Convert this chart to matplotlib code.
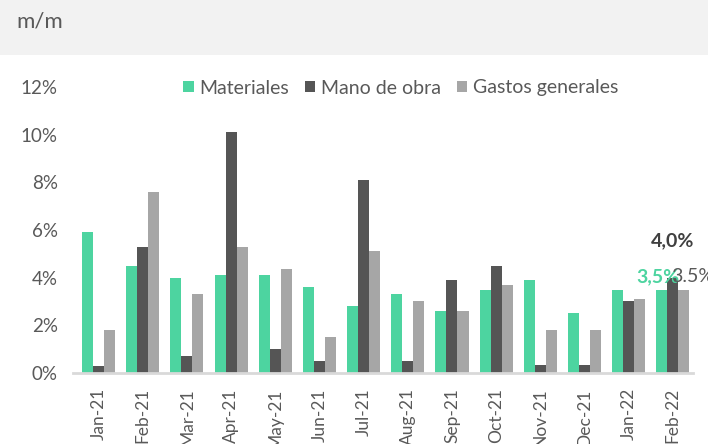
import numpy as np
import matplotlib
matplotlib.use("Agg")
import matplotlib.pyplot as plt
from matplotlib.patches import Rectangle
from matplotlib.ticker import FuncFormatter

months = ["Jan-21", "Feb-21", "Mar-21", "Apr-21", "May-21", "Jun-21", "Jul-21",
          "Aug-21", "Sep-21", "Oct-21", "Nov-21", "Dec-21", "Jan-22", "Feb-22"]
materiales = [5.9, 4.5, 4.0, 4.1, 4.1, 3.6, 2.8, 3.3, 2.6, 3.5, 3.9, 2.5, 3.5, 3.5]
mano_obra = [0.3, 5.3, 0.7, 10.1, 1.0, 0.5, 8.1, 0.5, 3.9, 4.5, 0.35, 0.35, 3.0, 4.0]
gastos = [1.8, 7.6, 3.3, 5.3, 4.35, 1.5, 5.1, 3.0, 2.6, 3.7, 1.8, 1.8, 3.1, 3.5]

green = "#4dd4a0"
dark = "#555555"
grey = "#a6a6a6"
txt = "#595959"

plt.rcParams['font.family'] = ['Lato', 'DejaVu Sans']

fig = plt.figure(figsize=(7.08, 4.44), dpi=100)
# grey title band
fig.patches.append(Rectangle((0, 1 - 55 / 444), 1, 55 / 444, transform=fig.transFigure,
                             facecolor="#f2f2f2", edgecolor="none", zorder=0))
fig.text(16 / 708, 1 - 22 / 444, "m/m", fontsize=16, color=txt, va="center", ha="left")

ax = fig.add_axes([0.103, 0.16, 0.876, 0.644])
x = np.arange(len(months))
w = 0.25
ax.bar(x - w, materiales, w, color=green, label="Materiales")
ax.bar(x, mano_obra, w, color=dark, label="Mano de obra")
ax.bar(x + w, gastos, w, color=grey, label="Gastos generales")

ax.set_xlim(-0.58, 13.46)
ax.set_ylim(0, 12)
ax.set_yticks([0, 2, 4, 6, 8, 10, 12])
ax.yaxis.set_major_formatter(FuncFormatter(lambda v, p: "%d%%" % v))
ax.set_xticks(x)
ax.set_xticklabels(months, rotation=90, va="top")
ax.tick_params(axis="both", length=0, labelsize=13.5, colors=txt)
ax.tick_params(axis="x", pad=11, labelsize=12.5)
ax.tick_params(axis="y", pad=11)
for s in ["top", "right", "left"]:
    ax.spines[s].set_visible(False)
ax.spines["bottom"].set_color("#d9d9d9")
ax.spines["bottom"].set_linewidth(2)

# labels on the last month
n = len(months) - 1
ax.text(n, mano_obra[n] + 1.2, "4,0%", color="#404040", fontsize=14, fontweight="bold",
        ha="center", va="bottom")
ax.text(n - w - 0.08, 3.7, "3,5%", color=green, fontsize=14, fontweight="bold",
        ha="center", va="bottom")
ax.text(n + w + 0.2, 3.7, "3.5%", color=txt, fontsize=14, ha="center", va="bottom",
        clip_on=False)

fig.legend(loc="center", bbox_to_anchor=(0.566, 1 - 88 / 444), ncol=3, frameon=False,
           fontsize=14, handlelength=0.55, handleheight=0.55, handletextpad=0.3,
           columnspacing=0.8, labelcolor=txt)

fig.savefig("out.png", dpi=100)
